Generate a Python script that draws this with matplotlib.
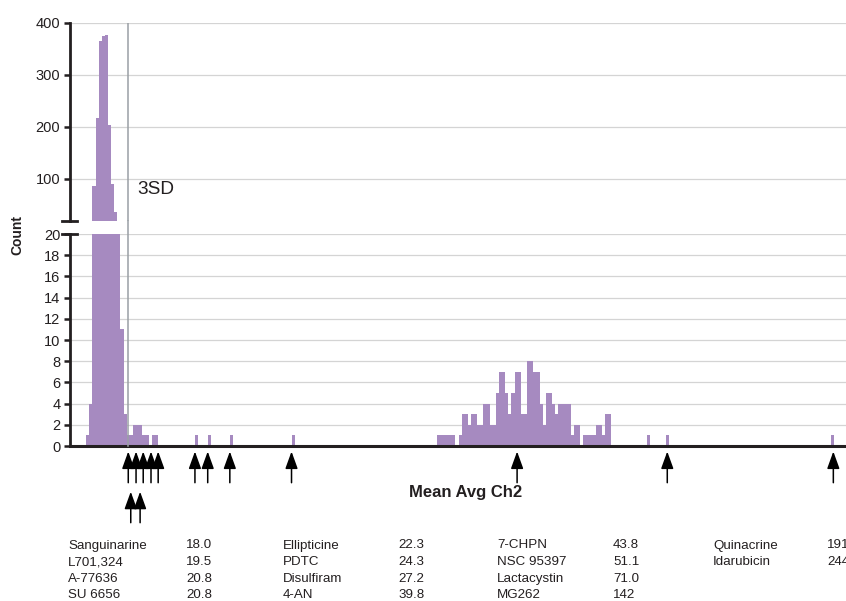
import matplotlib
matplotlib.use("Agg")
import matplotlib.pyplot as plt
from matplotlib.lines import Line2D

plt.rcParams['font.family'] = ['Liberation Sans', 'DejaVu Sans']

# ---------------- data ----------------
# histogram bins: left edge (Mean Avg Ch2 units), bin width 1
bin_left = [4.5, 5.5, 6.5, 7.5, 8.5, 9.5, 10.5, 11.5, 12.5, 13.5, 14.5, 15.5, 16.5,
            17.5, 18.5, 19.5, 20.5, 21.5, 22.5, 23.5, 25.5, 26.5,
            39.5, 43.5, 50.5, 70.5,
            117, 118, 119, 120, 121, 122, 124, 125, 126, 127, 128, 129, 130, 131,
            132, 133, 134, 135, 136, 137, 138, 139, 140, 141, 142, 143, 144, 145,
            146, 147, 148, 149, 150, 151, 152, 153, 154, 155, 156, 157, 158, 159,
            160, 161, 162, 164, 165, 166, 167, 168, 169, 170, 171, 172,
            184.5, 190.5, 243.5]
counts = [1, 4, 87, 217, 365, 375, 377, 203, 90, 36, 20, 11, 3,
          1, 1, 2, 2, 2, 1, 1, 1, 1,
          1, 1, 1, 1,
          1, 1, 1, 1, 1, 1, 1, 3, 3, 2, 3, 3, 2, 2,
          4, 4, 2, 2, 5, 7, 7, 5, 3, 5, 7, 7, 3, 3,
          8, 8, 7, 7, 4, 2, 5, 5, 4, 3, 4, 4, 4, 4,
          1, 2, 2, 1, 1, 1, 1, 2, 2, 1, 3, 3,
          1, 1, 1]

threshold_3sd = 18.0

# arrow positions (two rows)
arrows_row1 = [18.0, 20.5, 22.8, 25.3, 27.6, 39.4, 43.5, 50.6, 70.4, 142.8, 191.0, 244.3]
arrows_row2 = [18.8, 21.8]

compounds = ["Sanguinarine", "L701,324", "A-77636", "SU 6656",
             "Ellipticine", "PDTC", "Disulfiram", "4-AN",
             "7-CHPN", "NSC 95397", "Lactacystin", "MG262",
             "Quinacrine", "Idarubicin"]
compound_values = ["18.0", "19.5", "20.8", "20.8",
                   "22.3", "24.3", "27.2", "39.8",
                   "43.8", "51.1", "71.0", "142",
                   "191", "244"]

upper_ticks = [100, 200, 300, 400]
lower_ticks = [0, 2, 4, 6, 8, 10, 12, 14, 16, 18, 20]

# ---------------- style / layout ----------------
W, H = 846, 601
BAR = '#a68ac0'
INK = '#231f20'
GRID = '#d4d4d4'
LINE3SD = '#9a9fa5'

def fy(py):
    return 1 - py / H

fig = plt.figure(figsize=(W / 100, H / 100), dpi=100)

left_px, right_px = 70, 862
up_top, up_bot = 23, 220.6
lo_top, lo_bot = 234, 446
ax_up = fig.add_axes([left_px / W, fy(up_bot), (right_px - left_px) / W, (up_bot - up_top) / H])
ax_lo = fig.add_axes([left_px / W, fy(lo_bot), (right_px - left_px) / W, (lo_bot - lo_top) / H])

xlim = (-0.7, 253.5)
for ax in (ax_up, ax_lo):
    ax.bar(bin_left, counts, width=1.0, align='edge', color=BAR, linewidth=0, zorder=2)
    ax.set_xlim(*xlim)
    ax.set_facecolor('none')
    ax.yaxis.grid(True, color=GRID, linewidth=0.9, zorder=0)
    ax.set_axisbelow(True)
    for s in ('top', 'right'):
        ax.spines[s].set_visible(False)
    ax.spines['left'].set_linewidth(2.0)
    ax.spines['left'].set_color(INK)
    ax.set_xticks([])
    ax.tick_params(axis='y', direction='out', length=4, width=1.8, color=INK,
                   labelsize=10.5, labelcolor=INK, pad=3)

ax_up.spines['bottom'].set_visible(False)
ax_up.set_ylim(20, 400)
ax_up.set_yticks(upper_ticks)

ax_lo.set_ylim(0, 20)
ax_lo.set_yticks(lower_ticks)
ax_lo.spines['bottom'].set_linewidth(2.2)
ax_lo.spines['bottom'].set_color(INK)

# 3SD threshold line
ax_up.axvline(threshold_3sd, color=LINE3SD, linewidth=1.1, zorder=3)
ax_lo.axvline(threshold_3sd, ymin=0, ymax=(lo_bot - up_bot) / (lo_bot - lo_top),
              color=LINE3SD, linewidth=1.1, zorder=3, clip_on=False)
ax_up.text(20.9, 70.6, "3SD", fontsize=13.7, color=INK, va='baseline', ha='left')

# axis break marks
for py in (up_bot, lo_top):
    fig.add_artist(Line2D([62 / W, 77 / W], [fy(py), fy(py)], color=INK, linewidth=2.0))

# arrows
px_per_unit = (lo_bot - lo_top) / 20.0
def yv(py):
    return -(py - lo_bot) / px_per_unit

arrowprops = dict(arrowstyle='-|>,head_length=1.05,head_width=0.38', color='black',
                  lw=1.1, shrinkA=0, shrinkB=0, mutation_scale=10)
for x in arrows_row1:
    ax_lo.annotate('', xy=(x, yv(451.5)), xytext=(x, yv(482.7)),
                   arrowprops=arrowprops, annotation_clip=False)
for x in arrows_row2:
    ax_lo.annotate('', xy=(x, yv(491.7)), xytext=(x, yv(522.7)),
                   arrowprops=arrowprops, annotation_clip=False)

# axis titles
fig.text(466 / W, fy(492), "Mean Avg Ch2", ha='center', va='center',
         fontsize=12, fontweight='bold', color=INK)
fig.text(17 / W, fy(235), "Count", ha='center', va='center', rotation=90,
         fontsize=10, fontweight='bold', color=INK)

# compound table
name_x = [68, 283, 497, 713]
val_x = [186, 398, 613, 827]
row_base = [548.5, 565.2, 581.8, 598.4]
tfont = ['Liberation Sans', 'DejaVu Sans']
for i, (nm, v) in enumerate(zip(compounds, compound_values)):
    c, r = i // 4, i % 4
    fig.text(name_x[c] / W, fy(row_base[r]), nm, ha='left', va='baseline',
             fontsize=9.6, color=INK, family=tfont)
    fig.text(val_x[c] / W, fy(row_base[r]), v, ha='left', va='baseline',
             fontsize=9.6, color=INK, family=tfont)

fig.savefig("out.png", dpi=100)
